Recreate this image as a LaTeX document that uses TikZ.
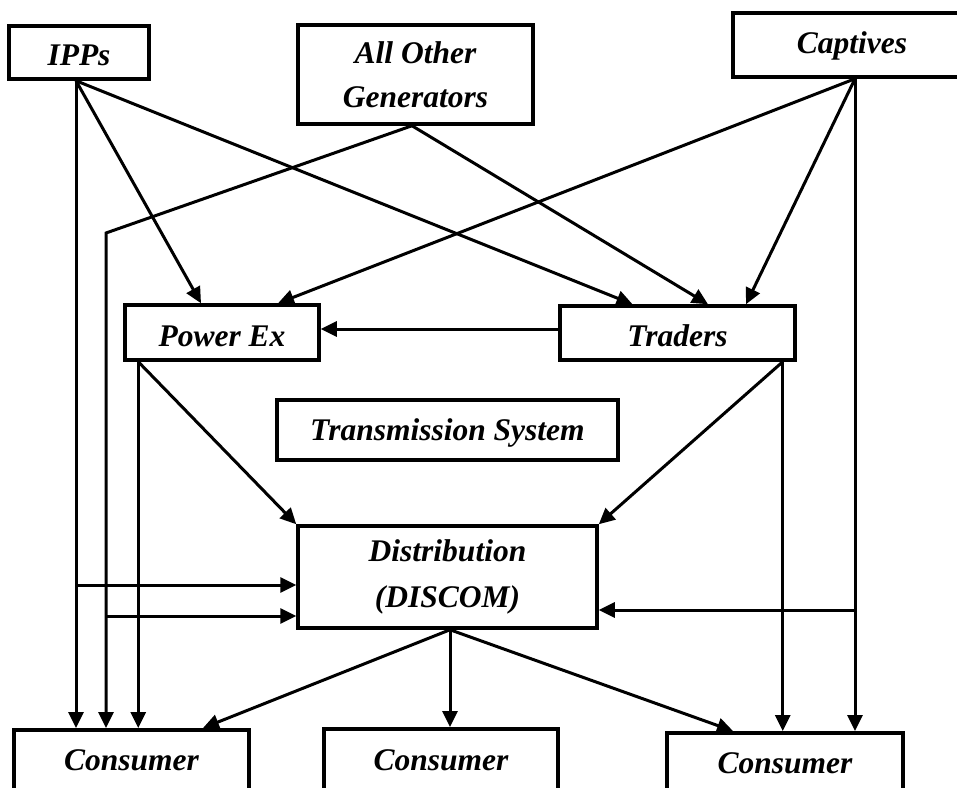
\documentclass[tikz,border=0pt]{standalone}
\usepackage{fontspec}
\setmainfont{Liberation Serif}
\usetikzlibrary{arrows.meta,calc}
\begin{document}
\begin{tikzpicture}[x=1pt,y=-1pt,
  box/.style={draw, line width=3.5pt, rectangle, inner sep=0pt,
    font=\fontsize{31.5}{44}\selectfont\bfseries\itshape},
  oneline/.style={box, text height=#1, text depth=6pt},
  oneline/.default=33pt,
  twoline/.style={box, align=center},
  link/.style={line width=3pt},
  flow/.style={link, -{Triangle[length=16pt,width=15pt]}}]
\useasboundingbox (0,0) rectangle (957,787);
\clip (0,0) rectangle (957,787);

% generators
\node[oneline=32pt, minimum width=140pt, minimum height=53pt] (ipps) at (79,52.5) {IPPs};
\node[twoline, minimum width=235pt, minimum height=99pt] (aog) at (415.5,74.5) {All Other\\Generators};
\node[oneline=23pt, minimum width=238pt, minimum height=64pt] (cap) at (852,45) {Captives};

% market and grid
\node[oneline, minimum width=194pt, minimum height=55pt] (pex) at (222,332.5) {Power Ex};
\node[oneline, minimum width=235pt, minimum height=54pt] (trd) at (677.5,333) {Traders};
\node[oneline=27pt, minimum width=341pt, minimum height=60pt] (trn) at (447.5,430) {Transmission System};
\node[twoline, minimum width=299pt, minimum height=102pt] (dis) at (447.5,577) {Distribution\\[2pt](DISCOM)};

% consumers
\node[oneline=27pt, minimum width=235pt, minimum height=60pt, anchor=north] (c1) at (131.5,728) {Consumer};
\node[oneline=27pt, minimum width=234pt, minimum height=62pt, anchor=north] (c2) at (441,727) {Consumer};
\node[oneline=27pt, minimum width=236pt, minimum height=60pt, anchor=north] (c3) at (785,731) {Consumer};

% IPPs
\coordinate (ippsOut) at ($(ipps.south)+(-3,0)$);
\draw[flow] (ippsOut) -- (ippsOut |- c1.north);
\draw[flow] (ippsOut) -- ($(pex.north)+(-21,0)$);
\draw[flow] (ippsOut) -- ($(trd.north)+(-45,0)$);
\coordinate (inA) at ($(dis.west)+(0,8)$);
\draw[flow] (inA -| ippsOut) -- (inA);

% All other generators
\coordinate (aogOut) at ($(aog.south)+(-3.5,0)$);
\coordinate (aogBend) at (106,233);
\draw[flow] (aogOut) -- (aogBend) -- (aogBend |- c1.north);
\draw[flow] (aogOut) -- ($(trd.north)+(30.5,0)$);
\coordinate (inB) at ($(dis.west)+(0,39)$);
\draw[flow] (inB -| aogBend) -- (inB);

% Captives
\coordinate (capOut) at ($(cap.south)+(3,0)$);
\draw[flow] (capOut) -- ($(pex.north)+(56,0)$);
\draw[flow] (capOut) -- ($(trd.north)+(68.5,0)$);
\draw[flow] (capOut) -- (capOut |- c3.north);
\coordinate (inC) at ($(dis.east)+(0,33)$);
\draw[flow] (inC -| capOut) -- (inC);

% Traders
\draw[flow] ($(trd.west)+(0,-4)$) -- ($(pex.east)+(0,-3.5)$);
\coordinate (trdOut) at ($(trd.south east)+(-14,0)$);
\draw[flow] (trdOut) -- (dis.north east);
\draw[flow] (trdOut) -- (trdOut |- c3.north);

% Power exchange
\coordinate (pexOut) at ($(pex.south west)+(15,0)$);
\draw[flow] (pexOut) -- (dis.north west);
\draw[flow] (pexOut) -- (pexOut |- c1.north);

% Distribution to consumers
\coordinate (disOut) at ($(dis.south)+(2.5,0)$);
\draw[flow] (disOut) -- ($(c1.north)+(71.5,0)$);
\draw[flow] (disOut) -- (disOut |- c2.north);
\draw[flow] (disOut) -- ($(c3.north)+(-52,0)$);
\end{tikzpicture}
\end{document}
